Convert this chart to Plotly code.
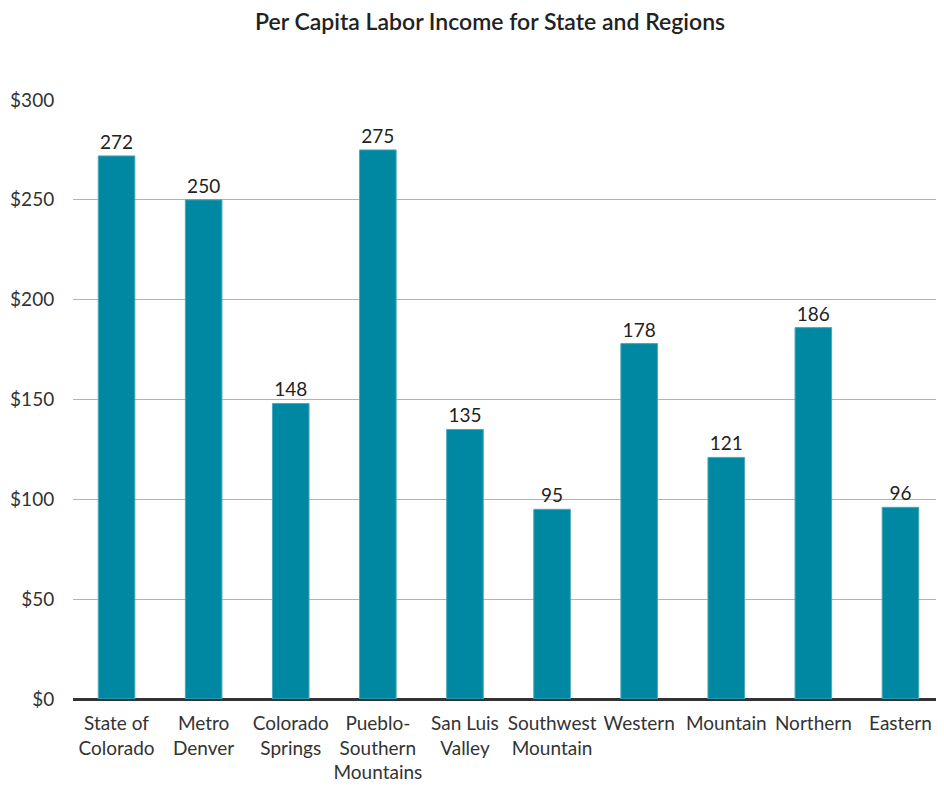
import plotly.graph_objects as go

categories = ["State of<br>Colorado", "Metro<br>Denver", "Colorado<br>Springs",
              "Pueblo-<br>Southern<br>Mountains", "San Luis<br>Valley",
              "Southwest<br>Mountain", "Western", "Mountain", "Northern", "Eastern"]
values = [272, 250, 148, 275, 135, 95, 178, 121, 186, 96]
tick_vals = [0, 50, 100, 150, 200, 250, 300]
tick_text = ["$0", "$50", "$100", "$150", "$200", "$250", "$300"]

FONT = "Lato"
fig = go.Figure(go.Bar(
    x=list(range(len(categories))), y=values,
    marker=dict(color="#0088a3", line=dict(color="#4aa7ba", width=1)),
    text=[str(v) for v in values], textposition="outside",
    textfont=dict(family=FONT, size=19, color="#222"),
    cliponaxis=False,
))
fig.update_layout(
    width=936, height=775,
    margin=dict(l=65, r=0, t=92, b=84),
    paper_bgcolor="white", plot_bgcolor="white",
    bargap=0.58,
    showlegend=False,
    title=dict(text="Per Capita Labor Income for State and Regions",
               x=0.515, xanchor="center", y=0.982, yanchor="middle",
               font=dict(family=FONT, size=23, color="#222", weight=600)),
    font=dict(family=FONT, size=19, color="#333"),
)
fig.update_xaxes(
    tickmode="array", tickvals=list(range(len(categories))), ticktext=categories,
    range=[-0.5, 9.5], showgrid=False, showline=False, zeroline=False,
    ticks="outside", ticklen=7, tickcolor="rgba(0,0,0,0)", tickangle=0,
    automargin=False, ticklabeloverflow="allow",
    tickfont=dict(family=FONT, size=19, color="#333"),
)
fig.update_yaxes(
    range=[0, 300], tickmode="array", tickvals=tick_vals, ticktext=tick_text,
    showgrid=True, gridcolor="#b3b3b3", gridwidth=1,
    zeroline=True, zerolinecolor="#333", zerolinewidth=3,
    showline=False, ticks="outside", ticklen=14, tickcolor="rgba(0,0,0,0)",
    automargin=False,
    tickfont=dict(family=FONT, size=19, color="#333"),
)
fig.write_html("out.html")
